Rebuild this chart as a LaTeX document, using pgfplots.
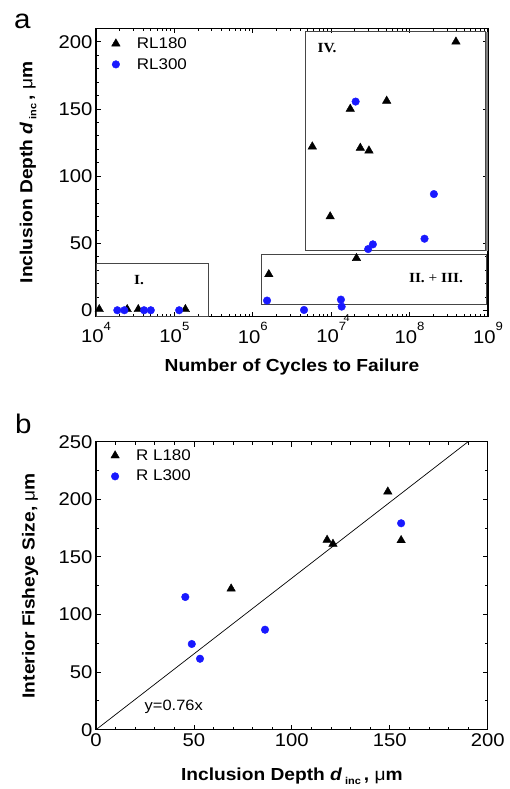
\documentclass[border=0pt]{standalone}
\usepackage{pgfplots}
\pgfplotsset{compat=1.18}
\usepackage{fontspec}
\setmainfont{Liberation Sans}[FakeStretch=1.1]
\newfontfamily\timesfont{Liberation Serif}[FakeStretch=1.1]
\definecolor{myblue}{RGB}{25,25,255}
\definecolor{boxgray}{RGB}{70,70,70}

\pgfplotstableread{
x y
1.1e4 1
2.5e4 1
3.46e4 1
1.38e5 1
1.6e6 27
5.74e6 122
9.7e6 70
1.75e7 150
2.1e7 39
2.35e7 121
3.03e7 119
5.1e7 156
3.9e8 200
}\rlAt
\pgfplotstableread{
x y
1.87e4 0.3
2.3e4 0.3
4.1e4 0.3
5.0e4 0.3
1.15e5 0.3
1.52e6 7.5
4.5e6 0.5
1.33e7 8.2
1.36e7 3
2.05e7 155.5
2.96e7 45.8
3.4e7 49.3
1.55e8 53.5
2.04e8 86.7
}\rlAc
\pgfplotstableread{
x y
69 122.4
118 164.7
121 161.2
149 206.6
155.8 164.4
}\rlBt
\pgfplotstableread{
x y
45.6 115.2
48.9 74.4
53.1 61.6
86.3 86.8
155.8 179.2
}\rlBc

\newcommand{\tsup}[1]{\raisebox{12.5bp}{\fontsize{12}{12}\selectfont #1}}

\pgfplotsset{
  common/.style={
    scale only axis,
    clip=false,
    axis line style={line width=1.1bp},
    tick style={line width=0.8bp, black},
    major tick length=5bp,
    minor tick length=3bp,
    tick align=inside,
    /pgf/number format/assume math mode=true,
    ticklabel style={font=\fontsize{18.5}{18.5}\selectfont},
    label style={font=\bfseries\fontsize{17.5}{17.5}\selectfont},
    legend style={draw=none, fill=none, inner sep=0pt, outer sep=0pt,
      font=\fontsize{15.5}{15.5}\selectfont, row sep=4.5bp,
      legend cell align=left},
    legend image code/.code={
      \path[draw=none, fill=none] (-5bp,-1bp) rectangle (19bp,1bp);
      \draw[##1] plot coordinates {(0bp,0bp)};
    },
  },
  tri/.style={only marks, mark=triangle*, mark size=4.9bp, mark options={fill=black, draw=black}, black},
  circ/.style={only marks, mark=*, mark size=3.8bp, mark options={fill=myblue, draw=myblue}, myblue},
}

\begin{document}
\begin{tikzpicture}
\useasboundingbox (0,0) rectangle (510bp,789bp);

\node[anchor=base west, inner sep=0pt, font=\fontsize{27}{27}\selectfont] at (14bp,760.7bp) {a};
\node[anchor=base west, inner sep=0pt, font=\fontsize{27}{27}\selectfont] at (15bp,355.7bp) {b};

\begin{axis}[common,
  at={(96bp,472.3bp)}, anchor=south west,
  width=392bp, height=288.4bp,
  xmode=log, xmin=1e4, xmax=1e9, ymin=-4.5, ymax=210,
  xtick={1e4,1e5,1e6,1e7,1e8,1e9},
  xticklabels={10\tsup{4},10\tsup{5},10\tsup{6},10\tsup{7},10\tsup{8},10\tsup{9}},
  xticklabel style={yshift=-2bp},
  ytick={0,50,100,150,200},
  minor y tick num=4,
  xlabel={Number of Cycles to Failure},
  xlabel style={at={(axis description cs:0.5,-0.173)}, anchor=center},
  ylabel={Inclusion Depth \textit{d}\,{\fontsize{10}{10}\selectfont\raisebox{-4bp}{inc}}\,, {\mdseries μ}m},
  ylabel style={at={(axis description cs:-0.1735,0.5)}, anchor=center},
  legend style={at={(axis description cs:0.038,0.975)}, anchor=north west},
]
\addplot[tri] table {\rlAt};
\addlegendentry{RL180}
\addplot[circ] table {\rlAc};
\addlegendentry{RL300}

\draw[boxgray, line width=1bp] (axis cs:1e4,-4.5) rectangle (axis cs:2.73e5,35);
\draw[boxgray, line width=1bp] (axis cs:1.28e6,4.7) rectangle (axis cs:9.5e8,41.8);
\draw[boxgray, line width=1bp] (axis cs:4.73e6,44.4) rectangle (axis cs:9.35e8,207.5);
\draw[gray, line width=2bp] (axis cs:9.6e8,44.4) -- (axis cs:9.6e8,207.5);

\node[font=\timesfont\bfseries\fontsize{14}{14}\selectfont] at (axis cs:3.53e4,23) {I.};
\node[font=\timesfont\bfseries\fontsize{14}{14}\selectfont] at (axis cs:2.17e8,24.5) {II. {\mdseries +} III.};
\node[font=\timesfont\bfseries\fontsize{14}{14}\selectfont] at (axis cs:8.84e6,195.4) {IV.};
\node[font=\fontsize{10}{10}\selectfont, inner sep=0pt] at (axis cs:1.58e7,-5.3) {4};
\end{axis}

\begin{axis}[common,
  at={(96bp,59.3bp)}, anchor=south west,
  width=391.7bp, height=288bp,
  xmin=0, xmax=200, ymin=0, ymax=250,
  xtick={0,50,100,150,200},
  ytick={0,50,100,150,200,250},
  minor x tick num=4,
  minor y tick num=1,
  xlabel={Inclusion Depth \textit{d}\,{\fontsize{10}{10}\selectfont\raisebox{-4bp}{inc}}\,, {\mdseries μ}m},
  xlabel style={at={(axis description cs:0.5,-0.161)}, anchor=center},
  ylabel={Interior Fisheye Size, {\mdseries μ}m},
  ylabel style={at={(axis description cs:-0.1685,0.5)}, anchor=center},
  legend style={at={(axis description cs:0.036,0.98)}, anchor=north west},
]
\addplot[tri] table {\rlBt};
\addlegendentry{R L180}
\addplot[circ] table {\rlBc};
\addlegendentry{R L300}
\addplot[black, line width=0.7bp, no marks, forget plot] coordinates {(0,0) (190,250)};
\node[font=\fontsize{15}{15}\selectfont] at (axis cs:39.7,20) {y=0.76x};
\end{axis}
\end{tikzpicture}
\end{document}
